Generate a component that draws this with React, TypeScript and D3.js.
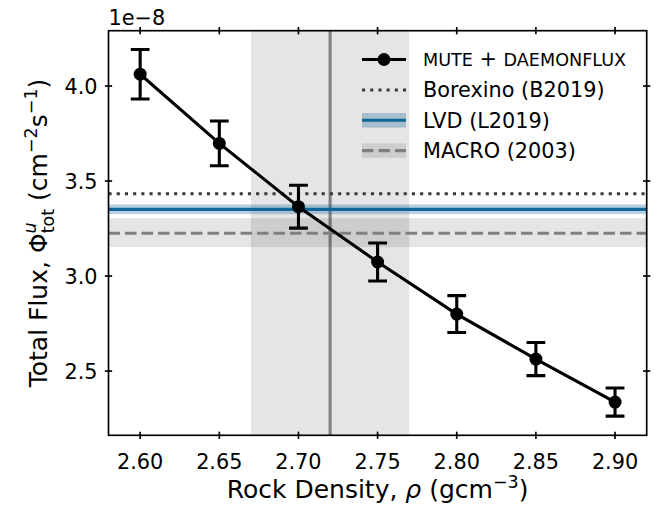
import React from "react";
import * as d3 from "d3";

const density = [2.6, 2.65, 2.7, 2.75, 2.8, 2.85, 2.9];
const flux = [4.062, 3.698, 3.365, 3.074, 2.8, 2.563, 2.337];
const fluxErr = [0.13, 0.118, 0.113, 0.1, 0.097, 0.087, 0.074];
const xTicks = [2.6, 2.65, 2.7, 2.75, 2.8, 2.85, 2.9];
const yTicks = [2.5, 3.0, 3.5, 4.0];
const borexino = 3.433;
const lvd = 3.351;
const lvdBand = [3.326, 3.377];
const macro = 3.225;
const macroBand = [3.152, 3.305];
const refDensity = 2.72;
const refDensityBand = [2.67, 2.77];
const xDomain = [2.58, 2.92];
const yDomain = [2.162, 4.291];

const W = 662;
const H = 506;
const M = { left: 108.5, right: 646.7, top: 30.7, bottom: 435.3 };
const FONT = "DejaVu Sans, Liberation Sans, sans-serif";
const FS = 20.8;
const LFS = 25;
const SFS = 17.5;
const LW = 3.1;
const BLUE = "#0f6798";

export default function App() {
  const x = d3.scaleLinear().domain(xDomain).range([M.left, M.right]);
  const y = d3.scaleLinear().domain(yDomain).range([M.bottom, M.top]);
  const line = d3
    .line<number>()
    .x((_, i) => x(density[i]))
    .y((d) => y(d));
  const tk = 3.65;
  const cap = 9.4;
  const legX0 = 362;
  const legX1 = 406;
  const legTx = 423;
  const rows = [59.5, 90, 120.3, 150.6];
  return (
    <svg
      width={W}
      height={H}
      style={{ position: "absolute", left: 0, top: 0, background: "#fff" }}
      fontFamily={FONT}
    >
      <defs>
        <clipPath id="clip">
          <rect x={M.left} y={M.top} width={M.right - M.left} height={M.bottom - M.top} />
        </clipPath>
      </defs>
      <g clipPath="url(#clip)">
        <rect
          x={x(refDensityBand[0])}
          y={M.top}
          width={x(refDensityBand[1]) - x(refDensityBand[0])}
          height={M.bottom - M.top}
          fill="#000"
          fillOpacity={0.1}
        />
        <line x1={x(refDensity)} x2={x(refDensity)} y1={M.top} y2={M.bottom} stroke="#808080" strokeWidth={LW} />
        <rect
          x={M.left}
          y={y(macroBand[1])}
          width={M.right - M.left}
          height={y(macroBand[0]) - y(macroBand[1])}
          fill="#000"
          fillOpacity={0.1}
        />
        <rect
          x={M.left}
          y={y(lvdBand[1])}
          width={M.right - M.left}
          height={y(lvdBand[0]) - y(lvdBand[1])}
          fill={BLUE}
          fillOpacity={0.3}
        />
        <line x1={M.left} x2={M.right} y1={y(borexino)} y2={y(borexino)} stroke="#3a3a3a" strokeWidth={LW} strokeDasharray="3.1,5.1" />
        <line x1={M.left} x2={M.right} y1={y(lvd)} y2={y(lvd)} stroke={BLUE} strokeWidth={LW} />
        <line x1={M.left} x2={M.right} y1={y(macro)} y2={y(macro)} stroke="#808080" strokeWidth={LW} strokeDasharray="11.5,5" />
        <path d={line(flux) || ""} fill="none" stroke="#000" strokeWidth={LW} />
        {flux.map((v, i) => {
          const cx = x(density[i]);
          const t = y(v + fluxErr[i]);
          const b = y(v - fluxErr[i]);
          return (
            <g key={i} stroke="#000" strokeWidth={LW}>
              <line x1={cx} x2={cx} y1={t} y2={b} />
              <line x1={cx - cap} x2={cx + cap} y1={t} y2={t} />
              <line x1={cx - cap} x2={cx + cap} y1={b} y2={b} />
              <circle cx={cx} cy={y(v)} r={6.5} fill="#000" stroke="none" />
            </g>
          );
        })}
      </g>
      <g>
        <line x1={legX0} x2={legX1} y1={rows[0]} y2={rows[0]} stroke="#000" strokeWidth={LW} />
        <circle cx={(legX0 + legX1) / 2} cy={rows[0]} r={6.5} fill="#000" />
        <text x={legTx} y={rows[0] + 6.2} fontSize={17.6} fill="#000">
          MUTE<tspan fontSize={FS}> + </tspan>DAEMONFLUX
        </text>
        <line x1={legX0} x2={legX1} y1={rows[1]} y2={rows[1]} stroke="#3a3a3a" strokeWidth={LW} strokeDasharray="3.1,5.1" />
        <text x={legTx} y={rows[1] + 7.4} fontSize={FS} fill="#000">Borexino (B2019)</text>
        <rect x={legX0} y={rows[2] - 7.3} width={legX1 - legX0} height={14.6} fill={BLUE} fillOpacity={0.3} />
        <line x1={legX0} x2={legX1} y1={rows[2]} y2={rows[2]} stroke={BLUE} strokeWidth={LW} />
        <text x={legTx} y={rows[2] + 7.4} fontSize={FS} fill="#000">LVD (L2019)</text>
        <rect x={legX0} y={rows[3] - 7.3} width={legX1 - legX0} height={14.6} fill="#000" fillOpacity={0.1} />
        <line x1={legX0} x2={legX1} y1={rows[3]} y2={rows[3]} stroke="#808080" strokeWidth={LW} strokeDasharray="11.5,5" />
        <text x={legTx} y={rows[3] + 7.4} fontSize={FS} fill="#000">MACRO (2003)</text>
      </g>
      <rect x={M.left} y={M.top} width={M.right - M.left} height={M.bottom - M.top} fill="none" stroke="#000" strokeWidth={1.67} />
      {xTicks.map((t) => (
        <g key={"x" + t}>
          <line x1={x(t)} x2={x(t)} y1={M.bottom - tk} y2={M.bottom + tk} stroke="#000" strokeWidth={1.67} />
          <line x1={x(t)} x2={x(t)} y1={M.top - tk} y2={M.top + tk} stroke="#000" strokeWidth={1.67} />
          <text x={x(t)} y={M.bottom + 34} textAnchor="middle" fontSize={FS} fill="#000">
            {d3.format(".2f")(t)}
          </text>
        </g>
      ))}
      {yTicks.map((t) => (
        <g key={"y" + t}>
          <line x1={M.left - tk} x2={M.left + tk} y1={y(t)} y2={y(t)} stroke="#000" strokeWidth={1.67} />
          <line x1={M.right - tk} x2={M.right + tk} y1={y(t)} y2={y(t)} stroke="#000" strokeWidth={1.67} />
          <text x={M.left - 11} y={y(t) + 7.5} textAnchor="end" fontSize={FS} fill="#000">
            {d3.format(".1f")(t)}
          </text>
        </g>
      ))}
      <text x={M.left} y={25} fontSize={FS} fill="#000">1e−8</text>
      <text x={(M.left + M.right) / 2} y={498} textAnchor="middle" fontSize={LFS} fill="#000">
        Rock Density, <tspan fontStyle="italic">ρ</tspan> (gcm<tspan fontSize={SFS} dy={-10}>−3</tspan>
        <tspan dy={10}>)</tspan>
      </text>
      <text
        transform={`translate(47, ${(M.top + M.bottom) / 2}) rotate(-90)`}
        textAnchor="middle"
        fontSize={LFS}
        fill="#000"
      >
        Total Flux, Φ<tspan fontSize={SFS} fontStyle="italic" dy={-11}>u</tspan>
        <tspan fontSize={SFS} dx={-11} dy={18}>tot</tspan>
        <tspan dy={-7}> (cm</tspan>
        <tspan fontSize={SFS} dy={-10}>−2</tspan>
        <tspan dy={10}>s</tspan>
        <tspan fontSize={SFS} dy={-10}>−1</tspan>
        <tspan dy={10}>)</tspan>
      </text>
    </svg>
  );
}
